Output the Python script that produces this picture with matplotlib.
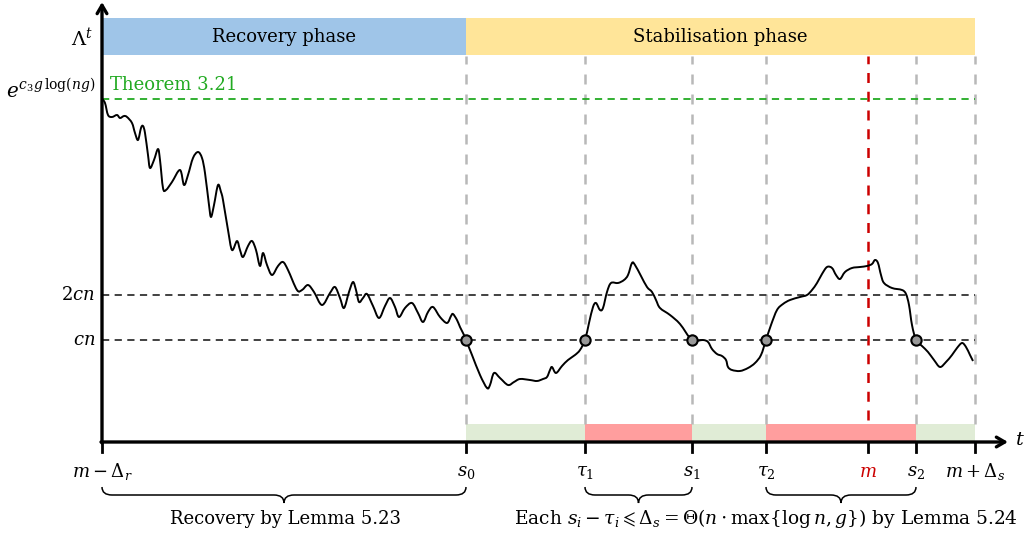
import matplotlib
matplotlib.use("Agg")
import matplotlib.pyplot as plt
from matplotlib.patches import Rectangle, PathPatch
from matplotlib.path import Path

plt.rcParams['font.family'] = ['DejaVu Serif']
plt.rcParams['mathtext.fontset'] = 'dejavuserif'

# Λ^t trajectory (schematic)
t_curve = [0, 3, 6, 10, 15, 18, 22, 25, 30, 33, 36, 39, 41, 43, 46, 48, 52, 56, 58, 61,
           64, 70, 78, 82, 86, 91, 96, 100, 103, 107, 109, 112, 116, 119, 121, 126, 130,
           135, 138, 141, 146, 150, 154, 158, 161, 165, 170, 176, 181, 186, 195, 200, 206,
           212, 220, 228, 233, 238, 242, 247, 251, 254, 257, 261, 265, 271, 277, 283, 288,
           293, 297, 303, 310, 316, 321, 326, 331, 338, 345, 349, 351, 355, 358, 362, 364,
           370, 378, 385, 388, 392, 398, 406, 412, 418, 428, 435, 441, 445, 448, 450, 454,
           460, 466, 473, 478, 483, 487, 491, 494, 498, 501, 505, 509, 516, 522, 526, 530,
           533, 539, 545, 550, 554, 558, 568, 578, 590, 601, 606, 610, 615, 620, 624, 626,
           630, 638, 646, 653, 659, 664, 669, 675, 681, 688, 698, 705, 710, 715, 720, 725,
           730, 734, 738, 743, 750, 758, 765, 770, 773, 776, 779, 782, 790, 800, 804, 807,
           810, 814, 820, 826, 832, 838, 844, 850, 855, 860, 864, 868, 871]
lam_curve = [343, 339, 327, 325, 327, 324, 326, 325, 319, 309, 302, 314, 316, 309, 287, 274,
             282, 293, 282, 254, 252, 260, 272, 257, 267, 284, 290, 284, 269, 237, 225, 237,
             257, 250, 242, 212, 192, 201, 192, 185, 196, 201, 192, 176, 189, 177, 167, 176,
             180, 172, 152, 152, 157, 150, 137, 149, 155, 144, 134, 150, 160, 152, 140, 144,
             148, 136, 124, 136, 144, 135, 125, 134, 139, 129, 120, 130, 135, 125, 119, 126,
             128, 122, 115, 107, 102, 87, 67, 54, 57, 69, 64, 57, 60, 63, 62, 61, 63, 65,
             72, 75, 69, 76, 82, 87, 92, 102, 119, 135, 139, 132, 134, 150, 159, 159, 162,
             167, 179, 177, 166, 155, 150, 142, 134, 127, 118, 102, 102, 100, 93, 88, 86,
             82, 75, 72, 71, 74, 79, 87, 102, 117, 132, 138, 142, 145, 147, 152, 159, 168,
             175, 174, 167, 163, 170, 174, 175, 176, 178, 182, 179, 167, 159, 154, 152, 148,
             137, 117, 102, 96, 90, 82, 75, 80, 87, 94, 99, 95, 87, 81]

# time markers on the t axis
tick_t = [0, 364, 483, 590, 664, 766, 814, 873]
tick_labels = [r'$m-\Delta_r$', r'$s_0$', r'$\tau_1$', r'$s_1$', r'$\tau_2$', r'$m$', r'$s_2$',
               r'$m+\Delta_s$']
tick_colors = ['black'] * 5 + ['#cc0000'] + ['black'] * 2

# levels
cn = 102
two_cn = 147
theorem_level = 343

# crossings of cn
cross_t = [364, 483, 590, 664, 814]

# phases
phase_names = ['Recovery phase', 'Stabilisation phase']
phase_bounds = [(0, 364), (364, 873)]
phase_colors = ['#9fc5e8', '#ffe599']

# bottom strips
strip_bounds = [(364, 483), (483, 590), (590, 664), (664, 814), (814, 873)]
strip_colors = ['#e0ecd6', '#ff9e9e', '#e0ecd6', '#ff9e9e', '#e0ecd6']

fig = plt.figure(figsize=(10.27, 5.36), dpi=100)
ax = fig.add_axes([0, 0, 1, 1])
ax.set_xlim(-102, 925)
ax.set_ylim(-94, 442)
ax.axis('off')

fs = 13

# phase bars
for (a, b), c, name in zip(phase_bounds, phase_colors, phase_names):
    ax.add_patch(Rectangle((a, 387), b - a, 37, color=c, lw=0, zorder=1))
    ax.text((a + b) / 2, 405, name, ha='center', va='center', fontsize=fs)

# bottom strips
for (a, b), c in zip(strip_bounds, strip_colors):
    ax.add_patch(Rectangle((a, 1), b - a, 17, color=c, lw=0, zorder=1))

# vertical guides
for tv in [364, 483, 590, 664, 814, 873]:
    ax.plot([tv, tv], [18, 386], ls=(0, (4, 4)), color='#b8b8b8', lw=1.8, zorder=2)
ax.plot([766, 766], [22, 386], ls=(0, (4, 3.5)), color='#cc0000', lw=1.8, zorder=3)

# horizontal levels
ax.plot([0, 873], [theorem_level] * 2, ls=(0, (4, 3)), color='#22aa22', lw=1.3, zorder=3)
ax.text(8, 357, 'Theorem 3.21', color='#22aa22', fontsize=fs, va='center')
for lv in [cn, two_cn]:
    ax.plot([0, 873], [lv, lv], ls=(0, (4, 3)), color='#333333', lw=1.3, zorder=3)
ax.text(-7, two_cn, r'$2cn$', ha='right', va='center', fontsize=fs)
ax.text(-7, cn, r'$cn$', ha='right', va='center', fontsize=fs)
ax.text(-7, 352, r'$e^{c_3 g\,\log(ng)}$', ha='right', va='center', fontsize=fs + 1.3)
ax.text(-20, 404, r'$\Lambda^t$', ha='center', va='center', fontsize=fs + 1)

# curve, drawn smooth through the read points (Catmull-Rom as Bezier segments)
verts = [(t_curve[0], lam_curve[0])]
codes = [Path.MOVETO]
n = len(t_curve)
for i in range(n - 1):
    p0 = (t_curve[max(i - 1, 0)], lam_curve[max(i - 1, 0)])
    p1 = (t_curve[i], lam_curve[i])
    p2 = (t_curve[i + 1], lam_curve[i + 1])
    p3 = (t_curve[min(i + 2, n - 1)], lam_curve[min(i + 2, n - 1)])
    c1 = (p1[0] + (p2[0] - p0[0]) / 6, p1[1] + (p2[1] - p0[1]) / 6)
    c2 = (p2[0] - (p3[0] - p1[0]) / 6, p2[1] - (p3[1] - p1[1]) / 6)
    verts += [c1, c2, p2]
    codes += [Path.CURVE4] * 3
ax.add_patch(PathPatch(Path(verts, codes), fill=False, lw=1.4, color='black',
                       zorder=5, joinstyle='round'))
ax.scatter(cross_t, [cn] * len(cross_t), s=55, color='#999999', edgecolor='black',
           linewidth=1.5, zorder=6)

# axes with arrows
ax.annotate('', xy=(0, 440), xytext=(0, -1),
            arrowprops=dict(arrowstyle='->,head_length=0.6,head_width=0.35', lw=2.4,
                            color='black', shrinkA=0, shrinkB=0), zorder=7)
ax.annotate('', xy=(906, 0), xytext=(-1, 0),
            arrowprops=dict(arrowstyle='->,head_length=0.6,head_width=0.35', lw=2.4,
                            color='black', shrinkA=0, shrinkB=0), zorder=7)
ax.text(918, 2, r'$t$', fontsize=fs + 1, va='center', ha='center')

# ticks and labels
for tv, lab, c in zip(tick_t, tick_labels, tick_colors):
    ax.plot([tv, tv], [0, -10], color='black', lw=2, zorder=7)
    ax.text(tv, -30, lab, ha='center', va='center', fontsize=fs, color=c)


def brace(x0, x1, ytop, h):
    xm = (x0 + x1) / 2
    r = min(10, (x1 - x0) / 4)
    ymid = ytop - h / 2
    bv = [(x0, ytop), (x0, ymid), (x0 + r, ymid),
          (xm - r, ymid), (xm, ymid), (xm, ytop - h),
          (xm, ymid), (xm + r, ymid),
          (x1 - r, ymid), (x1, ymid), (x1, ytop)]
    bc = [Path.MOVETO, Path.CURVE3, Path.CURVE3,
          Path.LINETO, Path.CURVE3, Path.CURVE3,
          Path.CURVE3, Path.CURVE3,
          Path.LINETO, Path.CURVE3, Path.CURVE3]
    ax.add_patch(PathPatch(Path(bv, bc), fill=False, lw=1.1, color='black'))


brace(0, 364, -45, 16)
brace(483, 590, -45, 16)
brace(664, 814, -45, 16)
ax.text(183, -77, 'Recovery by Lemma 5.23', ha='center', va='center', fontsize=fs)
ax.text(664, -77, r'Each $s_i-\tau_i\leqslant\Delta_s=\Theta(n\cdot\max\{\log n,g\})$ by Lemma 5.24',
        ha='center', va='center', fontsize=fs + 0.4)

fig.savefig('out.png', dpi=100)
